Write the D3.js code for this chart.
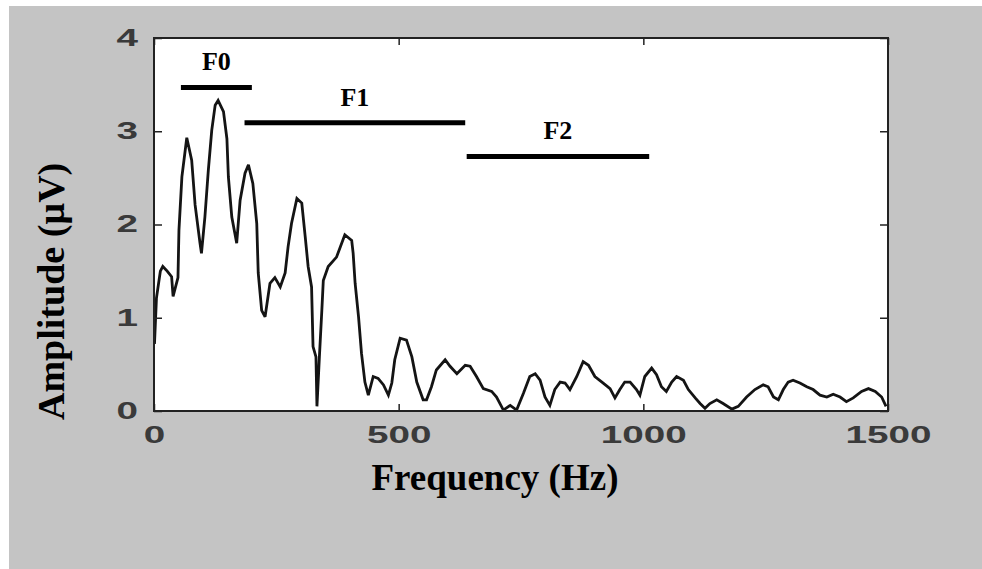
<!DOCTYPE html>
<html>
<head>
<meta charset="utf-8">
<script src="https://cdn.jsdelivr.net/npm/d3@7"></script>
<style>
  html, body { margin: 0; padding: 0; background: #ffffff; }
  svg { display: block; }
</style>
</head>
<body>
<svg id="chart" width="982" height="569"></svg>
<script>
// Spectrum of the response: frequency (Hz) and amplitude (µV)
const freqHz = [1, 5, 13, 18, 27, 36, 39, 49, 51, 57, 67, 77, 84, 94, 97, 104, 111, 118, 125, 131,
  142, 149, 152, 159, 169, 176, 186, 193, 202, 210, 213, 220, 227, 237, 247, 258, 268, 274, 281, 292,
  302, 309, 315, 322, 325, 331, 333, 338, 343, 346, 356, 373, 390, 404, 407, 411, 418, 424, 431, 438,
  448, 458, 469, 479, 486, 492, 503, 516, 527, 537, 550, 557, 567, 577, 595, 605, 619, 636, 646, 659,
  673, 690, 700, 714, 728, 741, 755, 768, 779, 789, 799, 809, 819, 830, 840, 850, 864, 877, 888, 901,
  918, 932, 942, 952, 962, 973, 986, 993, 1003, 1017, 1027, 1037, 1047, 1058, 1068, 1082, 1092, 1106,
  1116, 1126, 1136, 1150, 1163, 1181, 1194, 1211, 1228, 1245, 1255, 1266, 1276, 1286, 1296, 1306, 1320,
  1334, 1347, 1361, 1375, 1388, 1402, 1415, 1429, 1446, 1460, 1474, 1487, 1496];
const amplitude = [0.72, 1.21, 1.50, 1.55, 1.50, 1.44, 1.23, 1.43, 1.94, 2.51, 2.93, 2.69, 2.21, 1.80, 1.69, 2.08, 2.58, 3.01, 3.28, 3.33,
  3.21, 2.92, 2.51, 2.08, 1.80, 2.26, 2.55, 2.64, 2.44, 2.01, 1.48, 1.08, 1.01, 1.37, 1.43, 1.33, 1.48, 1.76, 2.01, 2.28,
  2.23, 1.87, 1.55, 1.33, 0.69, 0.58, 0.05, 0.58, 1.08, 1.40, 1.55, 1.65, 1.89, 1.83, 1.69, 1.37, 1.01, 0.62, 0.31, 0.17,
  0.37, 0.35, 0.28, 0.17, 0.30, 0.55, 0.78, 0.76, 0.58, 0.31, 0.12, 0.12, 0.26, 0.44, 0.55, 0.48, 0.40, 0.49, 0.48, 0.37,
  0.24, 0.21, 0.15, 0.01, 0.06, 0.01, 0.19, 0.37, 0.40, 0.33, 0.15, 0.06, 0.23, 0.31, 0.30, 0.23, 0.37, 0.53, 0.49, 0.37,
  0.30, 0.24, 0.14, 0.23, 0.31, 0.31, 0.23, 0.17, 0.37, 0.46, 0.39, 0.26, 0.21, 0.31, 0.37, 0.33, 0.23, 0.14,
  0.08, 0.03, 0.08, 0.12, 0.08, 0.02, 0.05, 0.15, 0.23, 0.28, 0.26, 0.15, 0.12, 0.23, 0.31, 0.33, 0.30,
  0.26, 0.23, 0.17, 0.15, 0.18, 0.15, 0.10, 0.14, 0.21, 0.24, 0.21, 0.15, 0.05];

// Formant bands marked above the spectrum
const bandNames = ["F0", "F1", "F2"];
const bandStartHz = [55, 185, 639];
const bandEndHz = [200, 636, 1012];
const bandLevel = [3.47, 3.09, 2.73];

// Axis ticks
const xTicks = [0, 500, 1000, 1500];
const yTicks = [0, 1, 2, 3, 4];

const svg = d3.select("#chart");
const W = 982, H = 569;
const plot = { left: 154, right: 888, top: 38, bottom: 411 };

// Page: white edge with grey panel
svg.append("rect").attr("x", 0).attr("y", 0).attr("width", W).attr("height", H).attr("fill", "#ffffff");
svg.append("rect").attr("x", 9).attr("y", 6).attr("width", W - 9).attr("height", H - 6).attr("fill", "#c4c4c4");

const x = d3.scaleLinear().domain([0, 1500]).range([plot.left, plot.right]);
const y = d3.scaleLinear().domain([0, 4]).range([plot.bottom, plot.top]);

// Plot area
svg.append("rect")
  .attr("x", plot.left).attr("y", plot.top)
  .attr("width", plot.right - plot.left).attr("height", plot.bottom - plot.top)
  .attr("fill", "#ffffff");

// Spectrum trace
const pts = freqHz.map((f, i) => [f, amplitude[i]]);
const line = d3.line().x(d => x(d[0])).y(d => y(d[1]));
svg.append("path")
  .datum(pts)
  .attr("d", line)
  .attr("fill", "none")
  .attr("stroke", "#141414")
  .attr("stroke-width", 2.8)
  .attr("stroke-linejoin", "miter")
  .attr("stroke-miterlimit", 3);

// Formant bars and labels
const bands = bandNames.map((n, i) => ({ name: n, a: bandStartHz[i], b: bandEndHz[i], lv: bandLevel[i] }));
svg.selectAll("line.band").data(bands).enter().append("line")
  .attr("class", "band")
  .attr("x1", d => x(d.a)).attr("x2", d => x(d.b))
  .attr("y1", d => y(d.lv)).attr("y2", d => y(d.lv))
  .attr("stroke", "#000").attr("stroke-width", 5);
svg.selectAll("text.band").data(bands).enter().append("text")
  .attr("class", "band")
  .attr("x", d => x((d.a + d.b) / 2))
  .attr("y", d => y(d.lv) - 17)
  .attr("text-anchor", "middle")
  .attr("font-family", "'Liberation Serif', 'Times New Roman', serif")
  .attr("font-weight", "bold")
  .attr("font-size", 26)
  .attr("fill", "#000")
  .text(d => d.name);

// Axes (ticks pointing inward, MATLAB-style box); tick digits are drawn wide
const tickFont = g => g.selectAll("text")
  .attr("font-family", "'Liberation Sans', Arial, sans-serif")
  .attr("font-weight", "bold")
  .attr("font-size", 23)
  .attr("fill", "#3a3a3a")
  .attr("lengthAdjust", "spacingAndGlyphs")
  .attr("textLength", function () { return this.textContent.length * 21.5; });

const gx = svg.append("g").attr("transform", `translate(0,${plot.bottom})`)
  .call(d3.axisBottom(x).tickValues(xTicks).tickFormat(d3.format("d")).tickSizeInner(-7).tickSizeOuter(0).tickPadding(16));
gx.call(tickFont);
const gy = svg.append("g").attr("transform", `translate(${plot.left},0)`)
  .call(d3.axisLeft(y).tickValues(yTicks).tickFormat(d3.format("d")).tickSizeInner(-8).tickSizeOuter(0).tickPadding(16));
gy.call(tickFont);
const gxTop = svg.append("g").attr("transform", `translate(0,${plot.top})`)
  .call(d3.axisTop(x).tickValues(xTicks).tickFormat("").tickSizeInner(-7).tickSizeOuter(0));
const gyRight = svg.append("g").attr("transform", `translate(${plot.right},0)`)
  .call(d3.axisRight(y).tickValues(yTicks).tickFormat("").tickSizeInner(-8).tickSizeOuter(0));

[gx, gy, gxTop, gyRight].forEach(g => {
  g.select(".domain").remove();
  g.selectAll(".tick line").attr("stroke", "#222").attr("stroke-width", 1.5);
});

// Frame
svg.append("rect")
  .attr("x", plot.left).attr("y", plot.top)
  .attr("width", plot.right - plot.left).attr("height", plot.bottom - plot.top)
  .attr("fill", "none").attr("stroke", "#222").attr("stroke-width", 2);

// Axis titles
svg.append("text")
  .attr("x", 495).attr("y", 490)
  .attr("text-anchor", "middle")
  .attr("font-family", "'Liberation Serif', 'Times New Roman', serif")
  .attr("font-weight", "bold")
  .attr("font-size", 37)
  .attr("fill", "#000")
  .text("Frequency (Hz)");

svg.append("text")
  .attr("transform", "translate(64,420) rotate(-90)")
  .attr("text-anchor", "start")
  .attr("font-family", "'Liberation Serif', 'Times New Roman', serif")
  .attr("font-weight", "bold")
  .attr("font-size", 38)
  .attr("fill", "#000")
  .text("Amplitude (µV)");
</script>
</body>
</html>
